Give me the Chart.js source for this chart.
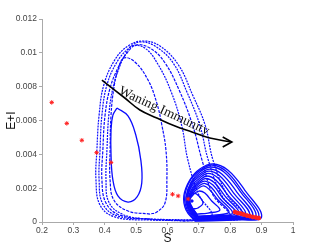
<!DOCTYPE html>
<html lang="en">
<head>
<meta charset="utf-8" />
<title>Waning immunity phase plane</title>
<script src="https://cdn.jsdelivr.net/npm/chart.js"></script>
<style>
  body { margin: 0; background: #fff; }
  #wrap { width: 325px; height: 250px; }
</style>
</head>
<body>
<div id="wrap"><canvas id="phase" width="325" height="250"></canvas></div>
<script>
  // axis ticks
  const sTicks = [0.2, 0.3, 0.4, 0.5, 0.6, 0.7, 0.8, 0.9, 1];
  const eiTicks = [0, 0.002, 0.004, 0.006, 0.008, 0.01, 0.012];

  // large loops, [S, E+I]
  const bigLoop1 = [[0.703,0.00012],[0.544,0.00012],[0.432,0.0003],[0.385,0.001],[0.372,0.00248],[0.375,0.00426],[0.382,0.00632],[0.397,0.0081],[0.432,0.00958],[0.474,0.0104],[0.522,0.0107],[0.576,0.0104],[0.635,0.00928],[0.68,0.00751],[0.72,0.00573],[0.745,0.00366],[0.79,0.0016],[0.846,0.00024]];
  const bigLoop2 = [[0.687,0.00012],[0.544,0.00018],[0.442,0.00035],[0.394,0.00106],[0.382,0.00248],[0.385,0.00426],[0.391,0.00632],[0.407,0.0081],[0.439,0.00946],[0.477,0.01028],[0.512,0.01064],[0.56,0.0104],[0.618,0.0094],[0.662,0.00768],[0.703,0.00573],[0.73,0.00366],[0.772,0.0016],[0.824,0.0003]];
  const bigLoop3 = [[0.671,0.00006],[0.538,0.00018],[0.448,0.00041],[0.404,0.00112],[0.391,0.00248],[0.394,0.00426],[0.401,0.00632],[0.417,0.00792],[0.445,0.00922],[0.471,0.00999],[0.499,0.01046],[0.544,0.01028],[0.59,0.00946],[0.637,0.0078],[0.68,0.00573],[0.71,0.00366],[0.745,0.0016],[0.799,0.0003]];
  const bigLoop4 = [[0.655,0.00006],[0.528,0.00018],[0.455,0.00047],[0.413,0.00118],[0.404,0.00248],[0.407,0.00426],[0.413,0.00632],[0.426,0.00792],[0.448,0.00922],[0.468,0.00999],[0.487,0.0104],[0.528,0.01028],[0.569,0.00934],[0.612,0.00768],[0.645,0.00573],[0.665,0.00366],[0.7,0.0016],[0.741,0.00035]];
  const bigLoop5 = [[0.544,0.00047],[0.474,0.00065],[0.429,0.0013],[0.417,0.00248],[0.417,0.00426],[0.42,0.00632],[0.429,0.00792],[0.442,0.00898],[0.461,0.00969],[0.496,0.00946],[0.538,0.00839],[0.566,0.00703],[0.582,0.00573],[0.595,0.00426],[0.598,0.00248],[0.592,0.00112],[0.566,0.00059]];
  const innerLoop = [[0.439,0.00674],[0.474,0.00627],[0.499,0.00514],[0.515,0.00366],[0.518,0.00231],[0.503,0.00148],[0.474,0.00118],[0.442,0.00154],[0.426,0.00248],[0.42,0.00396],[0.42,0.00544],[0.426,0.00632]];

  // small spiral round the lower fixed point, outermost first
  const spiral1 = [[0.687,0.00006],[0.659,0.00071],[0.652,0.00154],[0.671,0.00248],[0.703,0.00313],[0.745,0.00343],[0.792,0.00307],[0.846,0.00189],[0.9,0.0003],[0.831,0.00012]];
  const spiral2 = [[0.687,0.00009],[0.662,0.00074],[0.655,0.00151],[0.671,0.00242],[0.703,0.00304],[0.741,0.00337],[0.786,0.00301],[0.837,0.00186],[0.891,0.00033],[0.821,0.00015]];
  const spiral3 = [[0.69,0.00012],[0.665,0.00077],[0.659,0.00148],[0.675,0.00236],[0.703,0.00296],[0.738,0.00325],[0.78,0.00296],[0.831,0.00183],[0.882,0.00035],[0.815,0.00018]];
  const spiral4 = [[0.692,0.00015],[0.667,0.0008],[0.66,0.00145],[0.676,0.0023],[0.703,0.00284],[0.735,0.00313],[0.773,0.00284],[0.821,0.00177],[0.872,0.00038],[0.805,0.00021]];
  const spiral5 = [[0.694,0.00018],[0.668,0.00083],[0.662,0.00142],[0.678,0.00225],[0.703,0.00272],[0.732,0.00301],[0.767,0.00272],[0.811,0.00171],[0.862,0.00041],[0.799,0.00024]];
  const spiral6 = [[0.694,0.00021],[0.67,0.00086],[0.663,0.00139],[0.679,0.00216],[0.703,0.0026],[0.729,0.00287],[0.761,0.0026],[0.802,0.00165],[0.85,0.00044],[0.789,0.00027]];
  const spiral7 = [[0.694,0.00024],[0.671,0.00089],[0.665,0.00136],[0.681,0.00207],[0.703,0.00248],[0.725,0.00272],[0.754,0.00248],[0.792,0.0016],[0.84,0.00047],[0.783,0.0003]];
  const spiral8 = [[0.695,0.00027],[0.671,0.00092],[0.667,0.00136],[0.681,0.00198],[0.702,0.00236],[0.722,0.00257],[0.749,0.00233],[0.784,0.00151],[0.829,0.0005],[0.775,0.00033]];
  const spiral9 = [[0.697,0.0003],[0.671,0.00095],[0.668,0.00136],[0.681,0.00189],[0.7,0.00225],[0.719,0.00242],[0.745,0.00219],[0.776,0.00142],[0.818,0.00053],[0.767,0.00035]];
  const spiral10 = [[0.697,0.00033],[0.673,0.00098],[0.67,0.00136],[0.682,0.00183],[0.7,0.00213],[0.718,0.00228],[0.74,0.00204],[0.768,0.00136],[0.807,0.00053],[0.757,0.00038]];
  const spiral11 = [[0.697,0.00035],[0.675,0.001],[0.671,0.00136],[0.684,0.00177],[0.7,0.00201],[0.716,0.00213],[0.735,0.00189],[0.761,0.0013],[0.796,0.00059],[0.748,0.00041]];
  const spiral12 = [[0.694,0.00047],[0.675,0.00095],[0.671,0.0013],[0.684,0.00165],[0.7,0.00183],[0.719,0.00171],[0.741,0.00124],[0.767,0.00071],[0.729,0.00053]];
  const spiral13 = [[0.681,0.00077],[0.665,0.00106],[0.668,0.00148],[0.684,0.00171],[0.7,0.00154],[0.713,0.00112],[0.697,0.00083]];
  const fixedPoint = [[0.678,0.00124]];

  // red equilibria
  const redStars = [[0.231,0.00707],[0.279,0.00583],[0.327,0.00483],[0.374,0.0041],[0.42,0.00352],[0.616,0.00164],[0.634,0.00154],[0.666,0.00136]];
  const redTail = [[0.815,0.00059],[0.824,0.00053],[0.834,0.0005],[0.843,0.00044],[0.853,0.00038],[0.862,0.00035],[0.872,0.0003],[0.882,0.00027],[0.891,0.00024]];

  // arrow and its label
  const arrowPath = [[0.391,0.00839],[0.464,0.00733],[0.512,0.00662],[0.566,0.00615],[0.624,0.00567],[0.678,0.00532],[0.735,0.00496],[0.805,0.00473]];
  const arrowHead = [[0.776,0.00502],[0.805,0.00473],[0.776,0.00443]];
  const labelText = "Waning Immunity";
  const labelAt = [0.589, 0.00656];
  const labelAngle = 25;

  const pts = (arr) => arr.map(([x, y]) => ({ x, y }));
  const loop = (arr) => pts(arr.concat([arr[0]]));
  const BLUE = "#0c0cff";

  function curve(data, dash, width) {
    return {
      data: data,
      showLine: true,
      borderColor: BLUE,
      borderWidth: width || 1,
      borderDash: dash || [],
      pointRadius: 0,
      tension: 0.4,
      order: 3,
    };
  }

  const labelPlugin = {
    id: "waningLabel",
    afterDatasetsDraw(chart) {
      const { ctx, scales } = chart;
      const px = scales.x.getPixelForValue(labelAt[0]);
      const py = scales.y.getPixelForValue(labelAt[1]);
      ctx.save();
      ctx.translate(px, py);
      ctx.rotate((labelAngle * Math.PI) / 180);
      ctx.font = '13.5px "Liberation Serif"';
      ctx.fillStyle = "#111";
      ctx.textAlign = "center";
      ctx.textBaseline = "middle";
      ctx.fillText(labelText, 0, 0);
      ctx.restore();
    },
  };

  const spirals = [spiral1, spiral2, spiral3, spiral4, spiral5, spiral6, spiral7,
    spiral8, spiral9, spiral10, spiral11, spiral12, spiral13];

  new Chart(document.getElementById("phase"), {
    type: "scatter",
    data: {
      datasets: [
        curve(loop(bigLoop1), [2, 1], 1.2),
        curve(loop(bigLoop2), [2, 1], 1.2),
        curve(loop(bigLoop3), [3, 1.2], 1.2),
        curve(loop(bigLoop4), [2, 1], 1.2),
        curve(loop(bigLoop5), [3, 1.2], 1.2),
        curve(loop(innerLoop), [], 1.3),
        ...spirals.map((s) => curve(loop(s), [], 1.3)),
        {
          data: pts(fixedPoint),
          pointRadius: 1.2,
          backgroundColor: BLUE,
          borderColor: BLUE,
          order: 2,
        },
        {
          data: pts(redStars),
          pointStyle: "star",
          pointRadius: 2.2,
          borderWidth: 1,
          borderColor: "#ff2020",
          backgroundColor: "#ff2020",
          order: 1,
        },
        {
          data: pts(redTail),
          showLine: true,
          borderColor: "#ff2020",
          borderWidth: 3,
          pointStyle: "star",
          pointRadius: 2,
          pointBorderColor: "#ff2020",
          order: 1,
        },
        {
          data: pts(arrowPath),
          showLine: true,
          borderColor: "#000",
          borderWidth: 1.6,
          pointRadius: 0,
          tension: 0.4,
          order: 0,
        },
        {
          data: pts(arrowHead),
          showLine: true,
          borderColor: "#000",
          borderWidth: 1.6,
          pointRadius: 0,
          tension: 0,
          order: 0,
        },
      ],
    },
    options: {
      responsive: false,
      animation: false,
      devicePixelRatio: 1,
      layout: { padding: { top: 19, right: 32, left: 0, bottom: 0 } },
      plugins: { legend: { display: false }, tooltip: { enabled: false } },
      scales: {
        x: {
          type: "linear",
          min: sTicks[0],
          max: sTicks[sTicks.length - 1],
          afterBuildTicks: (scale) => {
            scale.ticks = sTicks.map((v) => ({ value: v }));
          },
          afterFit: (scale) => {
            scale.height = 28;
          },
          ticks: {
            color: "#444",
            font: { family: "Liberation Sans", size: 8.5 },
            padding: 1,
            maxRotation: 0,
            callback: (v) => String(parseFloat(v.toFixed(1))),
          },
          grid: { drawOnChartArea: false, tickLength: 3, color: "#aaa" },
          border: { color: "#aaa" },
          title: {
            display: true,
            text: "S",
            color: "#111",
            font: { family: "Liberation Sans", size: 12 },
            padding: { top: 0, bottom: 4 },
          },
        },
        y: {
          type: "linear",
          min: eiTicks[0],
          max: eiTicks[eiTicks.length - 1],
          afterBuildTicks: (scale) => {
            scale.ticks = eiTicks.map((v) => ({ value: v }));
          },
          afterFit: (scale) => {
            scale.width = 42;
          },
          ticks: {
            color: "#444",
            font: { family: "Liberation Sans", size: 8.5 },
            padding: 2,
            callback: (v) => String(parseFloat(v.toFixed(3))),
          },
          grid: { drawOnChartArea: false, tickLength: 3, color: "#aaa" },
          border: { color: "#aaa" },
          title: {
            display: true,
            text: "E+I",
            color: "#111",
            font: { family: "Liberation Sans", size: 12 },
            padding: { top: 4, bottom: 0 },
          },
        },
      },
    },
    plugins: [labelPlugin],
  });
</script>
</body>
</html>
